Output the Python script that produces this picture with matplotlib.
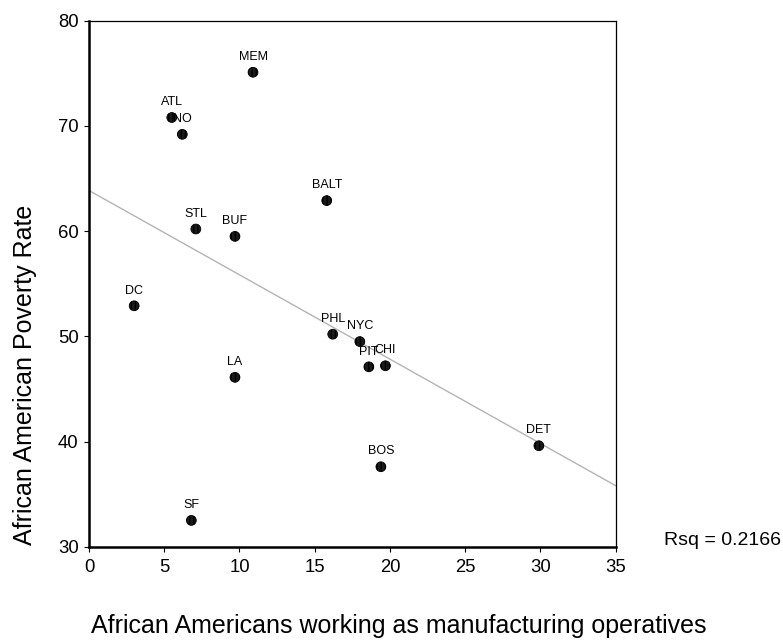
import numpy as np
import matplotlib
matplotlib.use("Agg")
import matplotlib.pyplot as plt

plt.rcParams["font.family"] = ["Liberation Sans", "DejaVu Sans"]

# ---------------------------
# DATA
# ---------------------------
cities = ["MEM", "ATL", "NO", "BALT", "STL", "BUF", "DC", "PHL",
          "NYC", "PIT", "CHI", "LA", "DET", "BOS", "SF"]
manuf = [10.9, 5.5, 6.2, 15.8, 7.1, 9.7, 3.0, 16.2,
         18.0, 18.6, 19.7, 9.7, 29.9, 19.4, 6.8]
poverty = [75.1, 70.8, 69.2, 62.9, 60.2, 59.5, 52.9, 50.2,
           49.5, 47.1, 47.2, 46.1, 39.6, 37.6, 32.5]
rsq_label = "Rsq = 0.2166"

x = np.array(manuf)
y = np.array(poverty)
slope, intercept = np.polyfit(x, y, 1)

fig = plt.figure(figsize=(7.83, 6.41), dpi=100)
ax = fig.add_axes([0.1137, 0.1471, 0.6725, 0.8206])

# fit line
xs = np.array([0, 35])
ax.plot(xs, intercept + slope * xs, color="#b4b4b4", lw=1.0, zorder=1)

# points
ax.scatter(x, y, s=50, facecolor="#1a1a1a", edgecolor="black",
           linewidth=0.6, hatch="||||", zorder=3)

for c, xi, yi in zip(cities, x, y):
    ax.annotate(c, (xi, yi), xytext=(0, 11), textcoords="offset points",
                ha="center", va="center", fontsize=9, zorder=4)

ax.set_xlim(0, 35)
ax.set_ylim(30, 80)
ax.set_xticks(range(0, 36, 5))
ax.set_yticks(range(30, 81, 10))
ax.tick_params(axis="both", labelsize=13.3, length=3.5, width=0.8, direction="out")
ax.tick_params(axis="x", pad=5)
ax.tick_params(axis="y", pad=4)

ax.spines["left"].set_linewidth(1.8)
ax.spines["bottom"].set_linewidth(1.8)
ax.spines["top"].set_linewidth(0.9)
ax.spines["right"].set_linewidth(0.9)

fig.text(399 / 783, 1 - 626 / 641, "African Americans working as manufacturing operatives",
         ha="center", va="center", fontsize=18)
fig.text(25 / 783, 1 - 375 / 641, "African American Poverty Rate",
         ha="center", va="center", rotation=90, fontsize=18)
fig.text(664 / 783, 1 - 545 / 641, rsq_label, ha="left", va="baseline", fontsize=14)

fig.savefig("out.png", dpi=100)
